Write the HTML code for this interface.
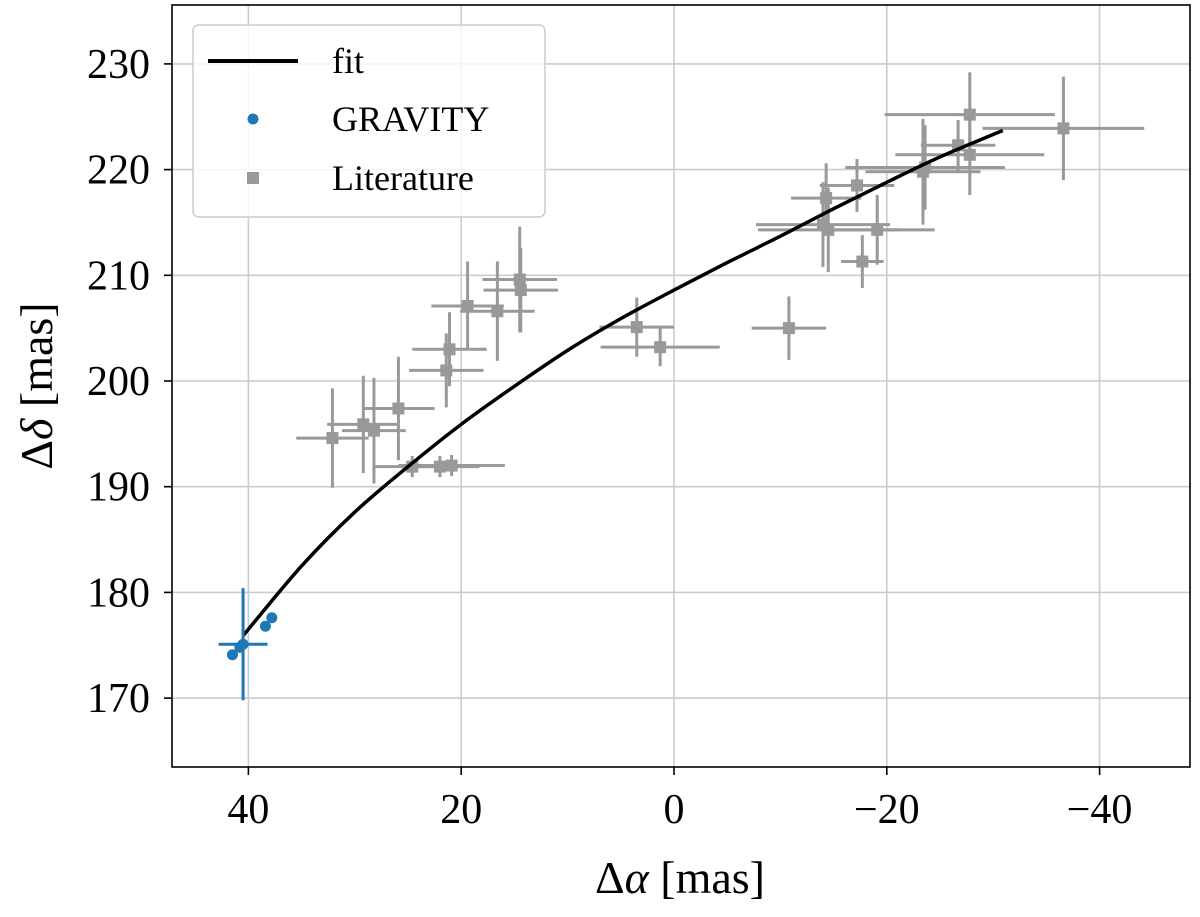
<!DOCTYPE html>
<html><head><meta charset="utf-8"><style>
body{margin:0;background:#fff}
svg text{font-family:"Liberation Serif",serif;fill:#000}
</style></head><body>
<svg id="chart" width="1200" height="912" xmlns="http://www.w3.org/2000/svg">
<g id="grid"></g>
<g id="lit"></g>
<g id="fitg"></g>
<g id="grav"></g>
<rect x="172" y="5" width="1018" height="762" fill="none" stroke="#000" stroke-width="1.6"/>
<g id="ticks"></g>
<text x="680" y="893" font-size="46" text-anchor="middle">Δ<tspan font-style="italic">α</tspan> [mas]</text>
<text transform="translate(52,386) rotate(-90)" font-size="46" text-anchor="middle">Δ<tspan font-style="italic">δ</tspan> [mas]</text>
<g>
<rect x="193" y="25" width="352" height="192" rx="6" fill="#fff" fill-opacity="0.8" stroke="#ccc" stroke-width="1.5"/>
<line x1="208" y1="61" x2="298" y2="61" stroke="#000" stroke-width="4"/>
<text x="332" y="73" font-size="36">fit</text>
<circle cx="253" cy="119" r="5.5" fill="#1f77b4"/>
<text x="332" y="131" font-size="36">GRAVITY</text>
<rect x="247" y="172" width="12" height="12" fill="#999"/>
<text x="332" y="190" font-size="36">Literature</text>
</g>
</svg>
<script>
const xTicks=[40,20,0,-20,-40];
const yTicks=[170,180,190,200,210,220,230];
const litX=[32.1,29.2,28.2,25.9,24.6,22.0,20.9,21.4,21.1,19.4,16.6,14.5,14.4,3.5,1.3,-10.8,-14.3,-14.0,-14.5,-17.2,-19.1,-17.7,-23.4,-23.6,-26.7,-27.8,-27.8,-36.6];
const litY=[194.6,195.9,195.3,197.4,191.9,191.9,192.0,201.0,203.0,207.1,206.6,209.6,208.6,205.1,203.2,205.0,217.3,214.8,214.3,218.5,214.3,211.3,219.8,220.2,222.3,225.2,221.4,223.9];
const litXErr=[3.4,3.4,3.0,3.4,3.7,3.7,5.0,3.5,3.5,3.4,3.5,3.5,3.5,3.5,5.6,3.5,3.3,6.3,6.6,3.5,5.4,2.0,5.4,7.5,3.5,8.0,7.0,7.6];
const litYErr=[4.7,4.6,5.0,4.9,1.0,1.0,1.0,3.5,3.5,4.2,4.7,5.0,4.0,2.8,1.8,3.0,3.3,4.0,4.0,2.5,3.3,2.5,5.0,4.0,2.4,4.0,3.8,4.9];
const gravX=[41.5,40.8,40.5,38.4,37.8];
const gravY=[174.1,174.8,175.1,176.8,177.6];
const gravXErr=[0.5,0.5,2.3,0.3,0.3];
const gravYErr=[0.3,0.3,5.3,0.3,0.3];
const fitX=[40.5,35,30,25,20,15,10,5,0,-5,-10,-15,-20,-25,-30.9];
const fitY=[175.9,182.5,187.6,191.9,195.9,199.5,202.9,205.9,208.6,211.2,213.7,216.3,218.8,221.2,223.7];
const X=v=>674-10.64*v, Y=v=>381-10.57*(v-200);
const NS='http://www.w3.org/2000/svg';
function mk(p,t,a){const e=document.createElementNS(NS,t);for(const k in a)e.setAttribute(k,a[k]);p.appendChild(e);return e;}
const grid=document.getElementById('grid'),ticks=document.getElementById('ticks');
xTicks.forEach(v=>{
 const g=mk(grid,'line',{x1:X(v),x2:X(v),y1:5,y2:767,stroke:'#cccccc','stroke-width':1.6});
 
 
 const t=mk(ticks,'line',{x1:X(v),x2:X(v),y1:767,y2:775,stroke:'#000','stroke-width':1.6});
 
 
 const l=mk(ticks,'text',{x:X(v),y:823,'font-size':42,'text-anchor':'middle'});
 l.textContent=v<0?'\u2212'+(-v):String(v);
 
 
});
yTicks.forEach(v=>{
 const g=mk(grid,'line',{x1:172,x2:1190,y1:Y(v),y2:Y(v),stroke:'#cccccc','stroke-width':1.6});
 
 
 const t=mk(ticks,'line',{x1:164,x2:172,y1:Y(v),y2:Y(v),stroke:'#000','stroke-width':1.6});
 
 
 const l=mk(ticks,'text',{x:150,y:Y(v)+14,'font-size':42,'text-anchor':'end'});
 l.textContent=String(v);
 
 
});
const lit=document.getElementById('lit');
litX.forEach((x,i)=>{
 const y=litY[i];
 const h=mk(lit,'line',{x1:X(x+litXErr[i]),x2:X(x-litXErr[i]),y1:Y(y),y2:Y(y),stroke:'#999','stroke-width':3});
 
 
 const v=mk(lit,'line',{x1:X(x),x2:X(x),y1:Y(y+litYErr[i]),y2:Y(y-litYErr[i]),stroke:'#999','stroke-width':3});
 
 
 const r=mk(lit,'rect',{x:X(x)-6,y:Y(y)-6,width:12,height:12,fill:'#999'});
 
 
});
const P=fitX.map((x,i)=>[X(x),Y(fitY[i])]);
let d='M'+P[0][0]+','+P[0][1];
for(let i=0;i<P.length-1;i++){
 const p0=P[Math.max(0,i-1)],p1=P[i],p2=P[i+1],p3=P[Math.min(P.length-1,i+2)];
 const c1=[p1[0]+(p2[0]-p0[0])/6,p1[1]+(p2[1]-p0[1])/6],c2=[p2[0]-(p3[0]-p1[0])/6,p2[1]-(p3[1]-p1[1])/6];
 d+=' C'+c1+' '+c2+' '+p2;
}
const fp=mk(document.getElementById('fitg'),'path',{d:d,fill:'none',stroke:'#000','stroke-width':3.5});


const grav=document.getElementById('grav');
gravX.forEach((x,i)=>{
 const y=gravY[i];
 const h=mk(grav,'line',{x1:X(x+gravXErr[i]),x2:X(x-gravXErr[i]),y1:Y(y),y2:Y(y),stroke:'#1f77b4','stroke-width':3});
 
 
 const v=mk(grav,'line',{x1:X(x),x2:X(x),y1:Y(y+gravYErr[i]),y2:Y(y-gravYErr[i]),stroke:'#1f77b4','stroke-width':3});
 
 
 const c=mk(grav,'circle',{cx:X(x),cy:Y(y),r:5.5,fill:'#1f77b4'});
 
 
});
</script>
</body></html>
